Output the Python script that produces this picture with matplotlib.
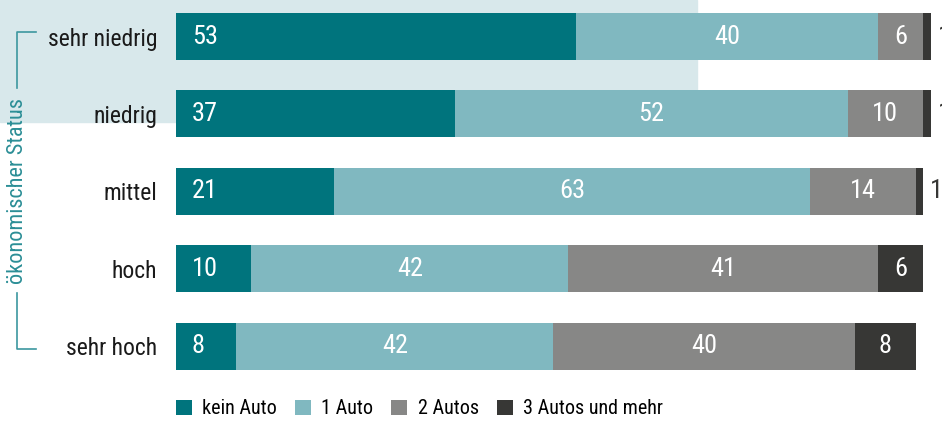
import matplotlib.pyplot as plt
from matplotlib.patches import Rectangle
from matplotlib.lines import Line2D

plt.rcParams['font.family'] = ['Roboto Condensed', 'Liberation Sans Narrow',
                               'Liberation Sans', 'DejaVu Sans']

status = ['sehr niedrig', 'niedrig', 'mittel', 'hoch', 'sehr hoch']
kein_auto = [53, 37, 21, 10, 8]
ein_auto = [40, 52, 63, 42, 42]
zwei_autos = [6, 10, 14, 41, 40]
drei_autos = [1, 1, 1, 6, 8]
serien = ['kein Auto', '1 Auto', '2 Autos', '3 Autos und mehr']
farben = ['#00747d', '#80b8c0', '#878786', '#373735']

W, H = 942, 421
fig = plt.figure(figsize=(W / 100, H / 100), dpi=100)

# hellblauer Hintergrund hinter den oberen zwei Balken
fig.patches.append(Rectangle((0, 1 - 122 / H), 697 / W, 122 / H,
                             transform=fig.transFigure, color='#d8e8eb', zorder=-5))

ax = fig.add_axes([176 / W, 36 / H, 766 / W, 385 / H])
ax.set_zorder(2)
ax.set_facecolor('none')

y = list(range(len(status)))
links = [0] * len(status)
handles = []
for i, werte in enumerate([kein_auto, ein_auto, zwei_autos, drei_autos]):
    b = ax.barh(y, werte, left=links, height=0.607, color=farben[i], label=serien[i])
    handles.append(b)
    for j, v in enumerate(werte):
        if i == 0:
            ax.text(links[j] + 2.1, y[j], str(v), ha='left', va='center',
                    color='white', fontsize=19)
        elif v >= 5:
            ax.text(links[j] + v / 2, y[j], str(v), ha='center', va='center',
                    color='white', fontsize=19)
        else:
            gesamt = links[j] + v
            ax.text(gesamt + 0.9, y[j], str(v), ha='left', va='center',
                    color='#373735', fontsize=19, clip_on=False)
    links = [l + v for l, v in zip(links, werte)]

ax.set_xlim(0, 101.5)
ax.set_ylim(4.503, -0.472)
ax.set_yticks(y, status)
ax.set_xticks([])
ax.tick_params(axis='y', length=0, pad=13.5, labelsize=17, labelcolor='#1a1a1a')
for s in ax.spines.values():
    s.set_visible(False)

ax.legend(handles=handles, ncol=4, loc='center left',
          bbox_to_anchor=(176 / W, 12 / H), bbox_transform=fig.transFigure,
          frameon=False, handlelength=0.8, handleheight=0.8, handletextpad=0.5,
          columnspacing=0.9, fontsize=14.5, borderaxespad=0, borderpad=0)

# Klammer mit Achsentitel
teal = '#3c979f'
fig.text(18 / W, 1 - 191 / H, 'ökonomischer Status', rotation=90, ha='center',
         va='center', color='#2b8e96', fontsize=16)
fig.add_artist(Line2D([36 / W, 17 / W, 17 / W], [1 - 32 / H, 1 - 32 / H, 1 - 88 / H],
                      color=teal, lw=1.2))
fig.add_artist(Line2D([17 / W, 17 / W, 36 / W], [1 - 293 / H, 1 - 349 / H, 1 - 349 / H],
                      color=teal, lw=1.2))

fig.savefig('out.png', dpi=100)
